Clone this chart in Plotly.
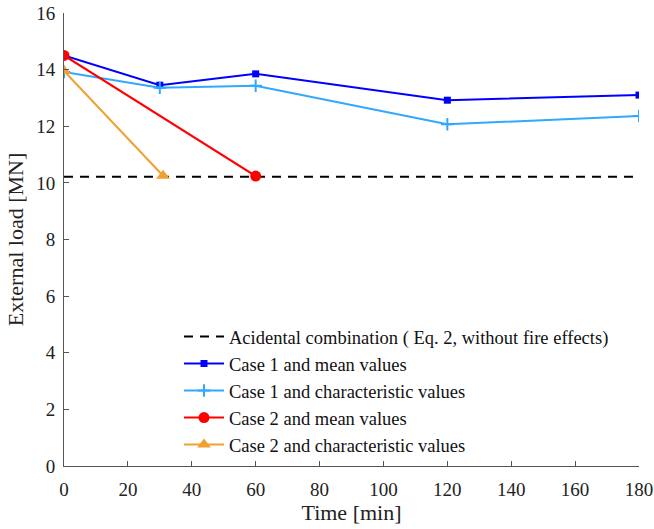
import plotly.graph_objects as go

# Data
acc_time = [0, 180]
acc_load = [10.22, 10.22]

c1m_time = [0, 30, 60, 120, 180]
c1m_load = [14.5, 13.45, 13.85, 12.92, 13.1]

c1k_time = [0, 30, 60, 120, 180]
c1k_load = [13.92, 13.36, 13.43, 12.07, 12.36]

c2m_time = [0, 60]
c2m_load = [14.5, 10.24]

c2k_time = [0, 31]
c2k_load = [13.95, 10.25]

names = [
    "Acidental combination ( Eq. 2, without fire effects)",
    "Case 1 and mean values",
    "Case 1 and characteristic values",
    "Case 2 and mean values",
    "Case 2 and characteristic values",
]

FONT = "Liberation Serif"

fig = go.Figure()
fig.add_trace(go.Scatter(x=acc_time, y=acc_load, mode="lines", name=names[0],
                         line=dict(color="black", width=2, dash="9px,7px")))
fig.add_trace(go.Scatter(x=c1m_time, y=c1m_load, mode="lines+markers", name=names[1],
                         line=dict(color="#0000ff", width=2),
                         marker=dict(symbol="square", size=7, color="#0000ff")))
fig.add_trace(go.Scatter(x=c1k_time, y=c1k_load, mode="lines+markers", name=names[2],
                         line=dict(color="#30a8ff", width=2),
                         marker=dict(symbol="cross-thin", size=9, color="#30a8ff",
                                     line=dict(color="#30a8ff", width=2))))
fig.add_trace(go.Scatter(x=c2m_time, y=c2m_load, mode="lines+markers", name=names[3],
                         line=dict(color="#ff0000", width=2),
                         marker=dict(symbol="circle", size=11, color="#ff0000")))
fig.add_trace(go.Scatter(x=c2k_time, y=c2k_load, mode="lines+markers", name=names[4],
                         line=dict(color="#f0a030", width=2),
                         marker=dict(symbol="triangle-up", size=12, color="#f0a030")))

fig.update_layout(
    width=654, height=529,
    margin=dict(l=64, r=15, t=13, b=63, autoexpand=False),
    plot_bgcolor="white", paper_bgcolor="white",
    font=dict(family=FONT, size=19, color="#222"),
    legend=dict(x=0.2, y=0.327, xanchor="left", yanchor="top",
                bgcolor="rgba(0,0,0,0)", font=dict(family=FONT, size=18.5, color="#111"),
                tracegroupgap=0, itemwidth=40),
    showlegend=True,
)
fig.update_xaxes(range=[0, 180], tickvals=list(range(0, 181, 20)), automargin=False,
                 title=dict(text="Time [min]", font=dict(size=22), standoff=4),
                 showgrid=False, zeroline=False, showline=True, linecolor="#555",
                 linewidth=1, ticks="inside", ticklen=5, tickcolor="#555",
                 ticklabelstandoff=6)
fig.update_yaxes(range=[0, 16], tickvals=list(range(0, 17, 2)), automargin=False,
                 title=dict(text="External load [MN]", font=dict(size=22), standoff=6),
                 showgrid=False, zeroline=False, showline=True, linecolor="#555",
                 linewidth=1, ticks="inside", ticklen=5, tickcolor="#555",
                 ticklabelstandoff=4)

fig.write_html("out.html")
